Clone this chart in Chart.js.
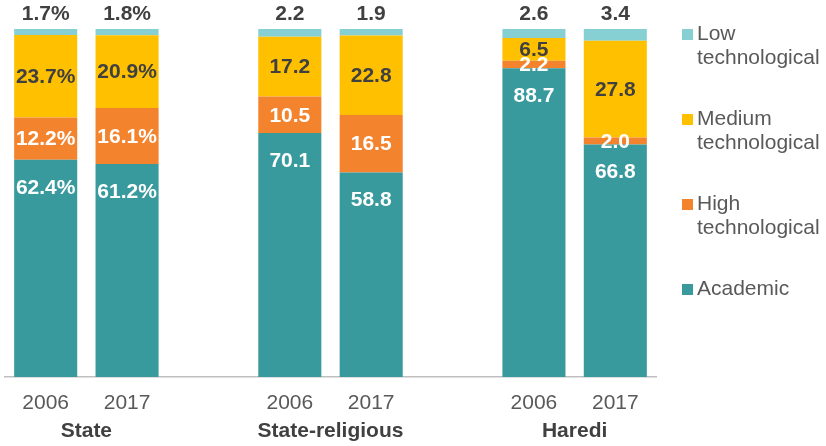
<!DOCTYPE html>
<html>
<head>
<meta charset="utf-8">
<script src="https://cdn.jsdelivr.net/npm/chart.js@4.4.1/dist/chart.umd.min.js"></script>
<style>
  html, body { margin: 0; padding: 0; background: #ffffff; }
  #wrap { width: 826px; height: 446px; position: relative; }
</style>
</head>
<body>
<div id="wrap"><canvas id="c" width="826" height="446"></canvas></div>
<script>
// ---- data ----
const groups = ['State', 'State-religious', 'Haredi'];
const years = ['2006', '2017'];
const groupSuffix = ['%', '', ''];
const academic = [62.4, 61.2, 70.1, 58.8, 88.7, 66.8];
const highTech = [12.2, 16.1, 10.5, 16.5, 2.2, 2.0];
const mediumTech = [23.7, 20.9, 17.2, 22.8, 6.5, 27.8];
const lowTech = [1.7, 1.8, 2.2, 1.9, 2.6, 3.4];
const seriesNames = ['Academic', 'High technological', 'Medium technological', 'Low technological'];
const seriesColors = ['#399A9E', '#F4832E', '#FFC000', '#86D0D3'];
const labelColors = ['#ffffff', '#ffffff', '#404040', '#404040'];

// build category slots with an empty slot between groups
const labels = [];
const slotInfo = [];
groups.forEach((g, gi) => {
  years.forEach((y, yi) => {
    labels.push(y);
    slotInfo.push({ group: gi, dataIdx: gi * years.length + yi });
  });
  if (gi < groups.length - 1) { labels.push(''); slotInfo.push(null); }
});
function expand(arr) {
  return slotInfo.map(s => (s ? arr[s.dataIdx] : null));
}
const seriesData = [academic, highTech, mediumTech, lowTech];

const datasets = seriesData.map((arr, i) => ({
  label: seriesNames[i],
  data: expand(arr),
  backgroundColor: seriesColors[i],
  borderWidth: 0,
  barPercentage: 0.775,
  categoryPercentage: 1.0
}));

const FONT = "'Liberation Sans', Arial, sans-serif";

const valueLabelPlugin = {
  id: 'valueLabels',
  afterDatasetsDraw(chart) {
    const ctx = chart.ctx;
    ctx.save();
    ctx.font = "bold 21px " + FONT;
    ctx.textAlign = 'center';
    ctx.textBaseline = 'middle';
    chart.data.datasets.forEach((ds, di) => {
      const meta = chart.getDatasetMeta(di);
      meta.data.forEach((bar, idx) => {
        const v = ds.data[idx];
        if (v === null || v === undefined) return;
        const s = slotInfo[idx];
        const txt = v.toFixed(1) + groupSuffix[s.group];
        const top = Math.min(bar.y, bar.base);
        const bottom = Math.max(bar.y, bar.base);
        let y;
        if (di === 0) y = top + 28;
        else if (di === 3) y = top - 15;
        else y = (top + bottom) / 2 + 1;
        ctx.fillStyle = labelColors[di];
        ctx.fillText(txt, bar.x, y);
      });
    });
    ctx.restore();
  }
};

const groupLabelPlugin = {
  id: 'groupLabels',
  afterDraw(chart) {
    const ctx = chart.ctx;
    const xs = chart.scales.x;
    ctx.save();
    ctx.font = "bold 21px " + FONT;
    ctx.fillStyle = '#404040';
    ctx.textAlign = 'center';
    ctx.textBaseline = 'middle';
    groups.forEach((g, gi) => {
      const idxs = [];
      slotInfo.forEach((s, i) => { if (s && s.group === gi) idxs.push(i); });
      const x = (xs.getPixelForValue(idxs[0]) + xs.getPixelForValue(idxs[idxs.length - 1])) / 2;
      ctx.fillText(g, x, 431);
    });
    ctx.restore();
  }
};

const legendPlugin = {
  id: 'sideLegend',
  afterDraw(chart) {
    const ctx = chart.ctx;
    ctx.save();
    ctx.font = "21px " + FONT;
    ctx.textAlign = 'left';
    ctx.textBaseline = 'middle';
    const order = [3, 2, 1, 0];
    order.forEach((di, k) => {
      const ds = chart.data.datasets[di];
      const yc = 34 + k * 85;
      ctx.fillStyle = ds.backgroundColor;
      ctx.fillRect(682, yc - 5, 11, 11);
      const parts = ds.label.split(' ');
      ctx.fillStyle = '#595959';
      parts.forEach((p, li) => ctx.fillText(p, 697, yc + li * 24));
    });
    ctx.restore();
  }
};

new Chart(document.getElementById('c'), {
  type: 'bar',
  data: { labels, datasets },
  options: {
    responsive: false,
    animation: false,
    devicePixelRatio: 1,
    layout: { padding: { left: 5, right: 170, top: 29, bottom: 0 } },
    plugins: { legend: { display: false }, tooltip: { enabled: false } },
    scales: {
      x: {
        stacked: true,
        grid: { display: false },
        border: { display: true, color: '#BFBFBF', width: 1.5 },
        ticks: { color: '#595959', font: { family: FONT, size: 21 }, padding: 6, maxRotation: 0, autoSkip: false },
        afterFit(scale) { scale.height = 446 - 377; }
      },
      y: {
        stacked: true,
        display: false,
        min: 0,
        max: 100
      }
    }
  },
  plugins: [valueLabelPlugin, groupLabelPlugin, legendPlugin]
});
</script>
</body>
</html>
